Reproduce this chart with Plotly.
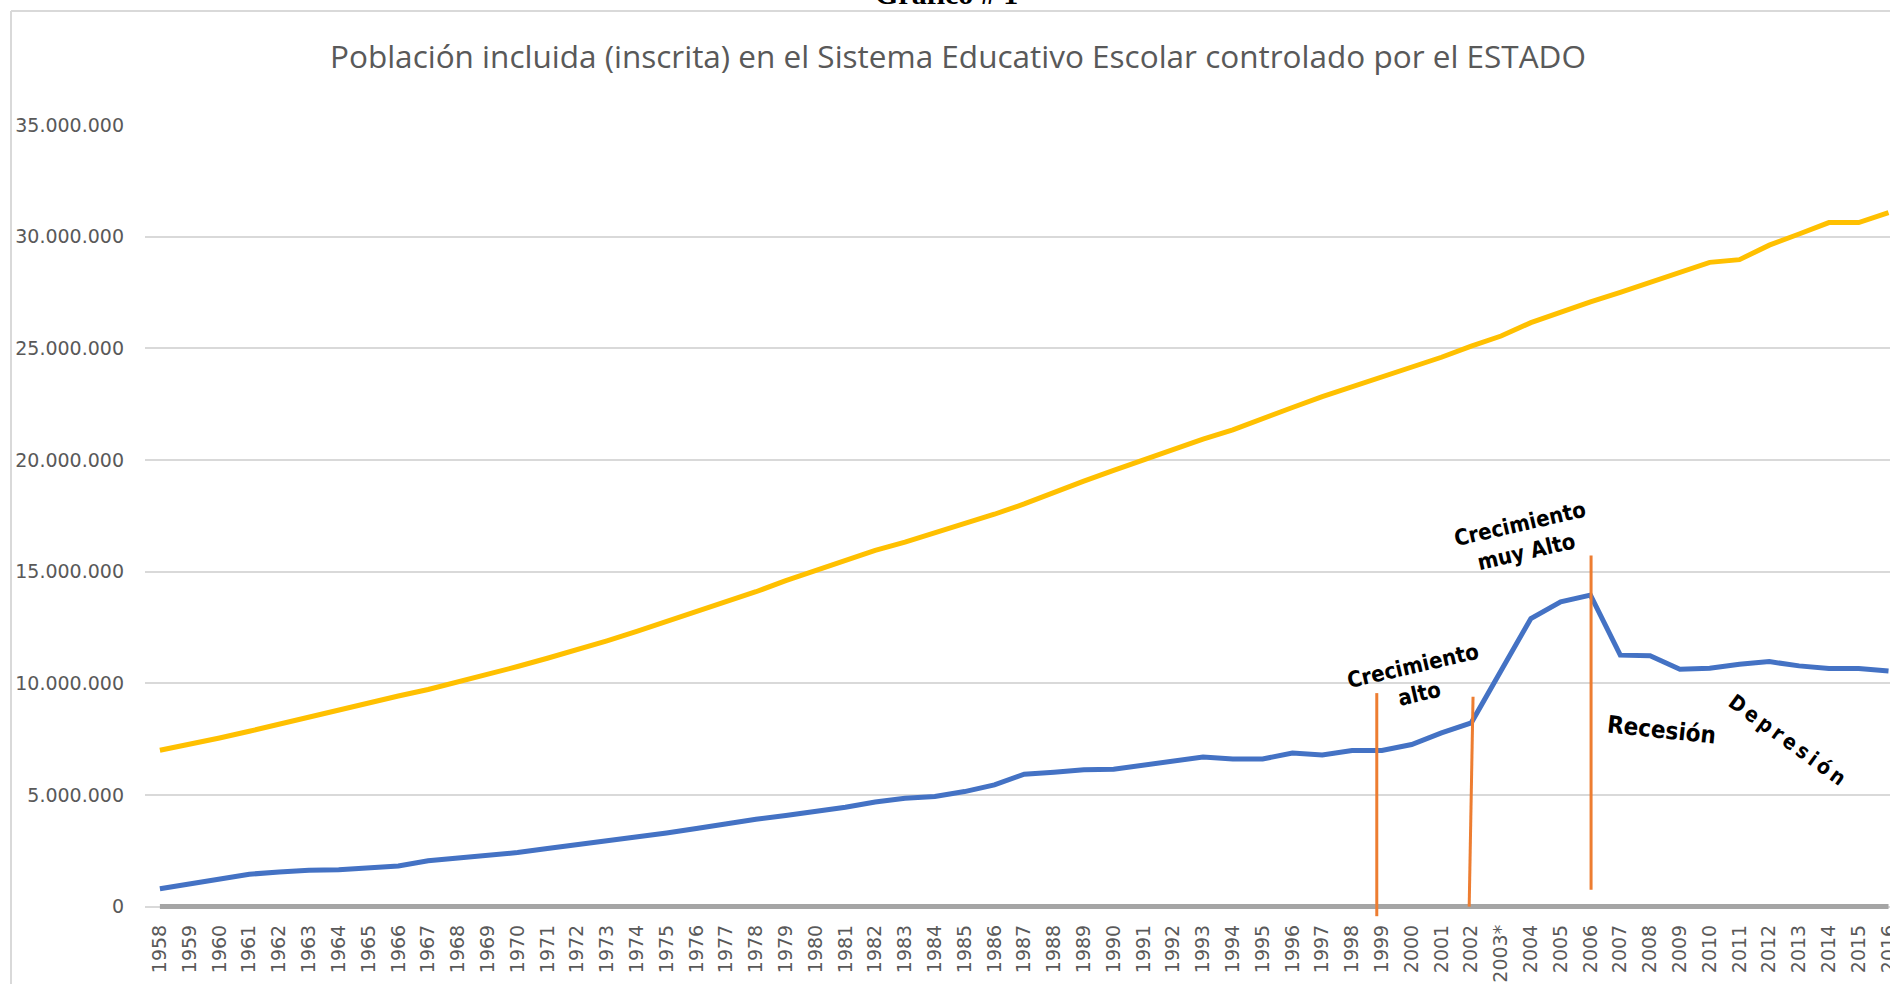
import plotly.graph_objects as go

# ---------------- data ----------------
years = ["1958","1959","1960","1961","1962","1963","1964","1965","1966","1967",
         "1968","1969","1970","1971","1972","1973","1974","1975","1976","1977",
         "1978","1979","1980","1981","1982","1983","1984","1985","1986","1987",
         "1988","1989","1990","1991","1992","1993","1994","1995","1996","1997",
         "1998","1999","2000","2001","2002","2003*","2004","2005","2006","2007",
         "2008","2009","2010","2011","2012","2013","2014","2015","2016"]

# total population (yellow), millions
poblacion = [7.00, 7.25, 7.55, 7.85, 8.17, 8.50, 8.80, 9.12, 9.43, 9.72,
             10.05, 10.40, 10.75, 11.12, 11.50, 11.90, 12.32, 12.76, 13.20, 13.65,
             14.10, 14.60, 15.07, 15.52, 15.95, 16.32, 16.72, 17.12, 17.57, 18.03,
             18.57, 19.05, 19.53, 20.00, 20.47, 20.93, 21.35, 21.87, 22.35, 22.84,
             23.28, 23.70, 24.15, 24.60, 25.10, 25.55, 26.15, 26.62, 27.08, 27.50,
             27.95, 28.42, 28.85, 28.97, 29.62, 30.12, 30.63, 30.63, 31.08]

# enrolled population (blue), millions
inscritos = [0.80, 1.03, 1.24, 1.45, 1.55, 1.63, 1.65, 1.73, 1.82, 2.05,
             2.16, 2.27, 2.42, 2.60, 2.77, 2.94, 3.09, 3.30, 3.50, 3.72,
             3.91, 4.08, 4.25, 4.45, 4.68, 4.85, 4.93, 5.15, 5.45, 5.93,
             6.02, 6.13, 6.15, 6.34, 6.55, 6.70, 6.61, 6.61, 6.88, 6.79,
             6.99, 6.99, 7.26, 7.78, 8.23, 10.55, 12.90, 13.65, 13.95, 11.26,
             11.23, 10.63, 10.67, 10.85, 10.97, 10.78, 10.66, 10.66, 10.55]

cero = [0.0] * len(years)

M = 1e6
y_ticks = [0, 5, 10, 15, 20, 25, 30, 35]
y_tick_text = ["0", "5.000.000", "10.000.000", "15.000.000", "20.000.000",
               "25.000.000", "30.000.000", "35.000.000"]

# annotation markers: (x_bottom, x_top, y_bottom, y_top) in category index / millions
markers = [(40.83, 40.83, -0.43, 9.56),
           (43.93, 44.06, 0.0, 9.40),
           (48.02, 48.02, 0.76, 15.72)]

labels = [("Crecimiento<br>alto", 42.15, 10.15, -13, 22),
          ("Crecimiento<br>muy Alto", 45.74, 16.51, -13, 22),
          ("Recesión", 50.37, 7.91, 6, 24),
          ("D\u2009e\u2009p\u2009r\u2009e\u2009s\u2009i\u2009ó\u2009n", 54.6, 7.46, 36, 21)]

# ---------------- figure ----------------
W, H = 1890, 984
L, R, T, B = 145, 1890, 125, 920

fig = go.Figure()
xs = list(range(len(years)))

fig.add_trace(go.Scatter(x=xs, y=cero, mode="lines",
                         line=dict(color="#A5A5A5", width=5), hoverinfo="skip"))
fig.add_trace(go.Scatter(x=xs, y=[v * M for v in poblacion], mode="lines",
                         line=dict(color="#FFC000", width=5)))
fig.add_trace(go.Scatter(x=xs, y=[v * M for v in inscritos], mode="lines",
                         line=dict(color="#4472C4", width=5)))


def px(p):
    return (p - L) / (R - L)


def py(p):
    return (B - p) / (B - T)


shapes = []
for xb, xt, yb, yt in markers:
    shapes.append(dict(type="line", xref="x", yref="y", x0=xt, x1=xb,
                       y0=yt * M, y1=yb * M,
                       line=dict(color="#ED7D31", width=3), layer="above"))
# white text box hiding part of the 5M gridline (behind "Depresión")
shapes.append(dict(type="line", xref="x", yref="y", x0=51.98, x1=57.5,
                   y0=5 * M, y1=5 * M, line=dict(color="white", width=3),
                   layer="below"))
# chart area border (top and left)
shapes.append(dict(type="line", xref="paper", yref="paper",
                   x0=px(11), x1=px(1895), y0=py(11), y1=py(11),
                   line=dict(color="#D9D9D9", width=2)))
shapes.append(dict(type="line", xref="paper", yref="paper",
                   x0=px(11), x1=px(11), y0=py(11), y1=py(990),
                   line=dict(color="#D9D9D9", width=2)))

annotations = []
for text, xi, yv, ang, size in labels:
    annotations.append(dict(text=text, x=xi, y=yv * M, xref="x", yref="y",
                            showarrow=False, textangle=ang,
                            font=dict(family="Liberation Sans Narrow, DejaVu Sans Condensed, sans-serif",
                                      size=size, color="black", weight="bold")))
annotations.append(dict(text="Población incluida (inscrita) en el Sistema Educativo Escolar controlado por el ESTADO",
                        xref="paper", yref="paper", x=px(958), y=py(55),
                        xanchor="center", yanchor="middle", showarrow=False,
                        font=dict(family="Open Sans", size=31.5, color="#595959")))
annotations.append(dict(text="<b>Gráfico # 1</b>", xref="paper", yref="paper",
                        x=px(946), y=py(-7), xanchor="center", yanchor="middle",
                        showarrow=False,
                        font=dict(family="Liberation Serif", size=30, color="black")))

fig.update_layout(
    width=W, height=H,
    margin=dict(l=L, r=W - R, t=T, b=H - B, autoexpand=False),
    paper_bgcolor="white", plot_bgcolor="white",
    showlegend=False,
    shapes=shapes, annotations=annotations,
    xaxis=dict(range=[-0.5, 58.05], tickmode="array", tickvals=xs, ticktext=years,
               tickangle=-90, showgrid=False, zeroline=False, showline=False,
               ticks="", ticklabeloverflow="allow",
               tickfont=dict(family="DejaVu Sans", size=19, color="#595959")),
    yaxis=dict(range=[-0.6 * M, 35 * M], tickmode="array",
               tickvals=[t * M for t in y_ticks], ticktext=y_tick_text,
               showgrid=True, gridcolor="#D9D9D9", gridwidth=1.5,
               zeroline=False, showline=False, ticks="", ticklabelstandoff=20,
               tickfont=dict(family="DejaVu Sans", size=19, color="#595959")),
)

fig.write_html("out.html",
               config={"displayModeBar": False},
               post_script="document.body.style.margin='0px';document.body.style.overflow='hidden';")
